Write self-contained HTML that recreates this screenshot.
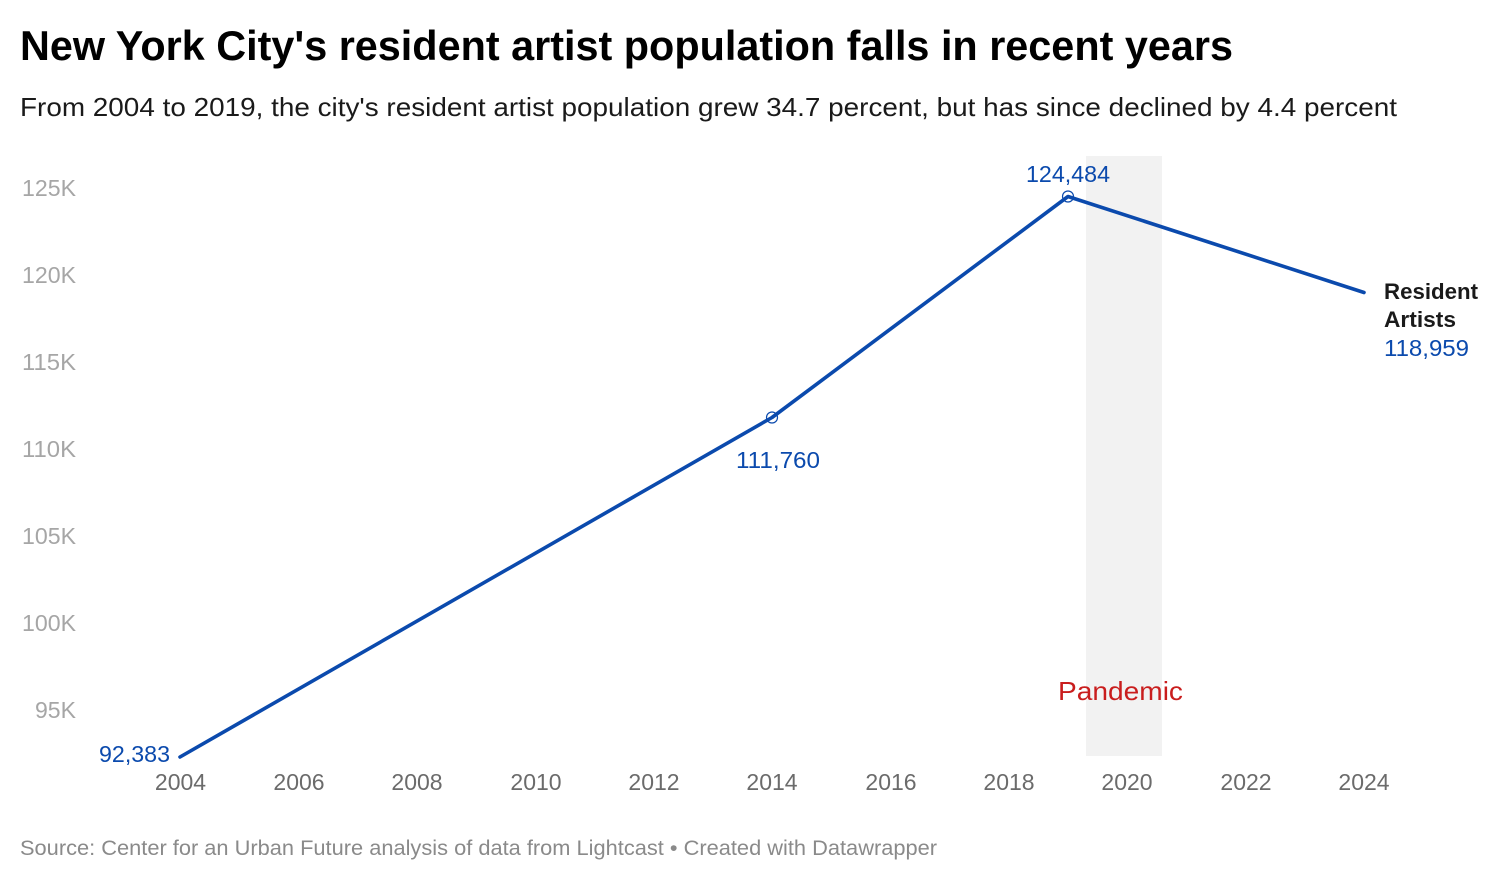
<!DOCTYPE html>
<html><head><meta charset="utf-8"><style>
html,body{margin:0;padding:0;background:#fff;}
svg{display:block;}
text{font-family:"Liberation Sans",Arial,sans-serif;}
</style></head><body>
<svg width="1500" height="882" viewBox="0 0 1500 882" xmlns="http://www.w3.org/2000/svg">
<rect width="1500" height="882" fill="#fff"/>
<text x="20" y="60" font-size="42" font-weight="bold" fill="#000" textLength="1213" lengthAdjust="spacingAndGlyphs">New York City's resident artist population falls in recent years</text>
<text x="20" y="116" font-size="26" fill="#1a1a1a" textLength="1377" lengthAdjust="spacingAndGlyphs">From 2004 to 2019, the city's resident artist population grew 34.7 percent, but has since declined by 4.4 percent</text>

<rect x="1086" y="156" width="76" height="600" fill="#f2f2f2"/>

<g font-size="23" fill="#a6a6a6">
<text x="22" y="196" textLength="54" lengthAdjust="spacingAndGlyphs">125K</text>
<text x="22" y="283" textLength="54" lengthAdjust="spacingAndGlyphs">120K</text>
<text x="22" y="370" textLength="54" lengthAdjust="spacingAndGlyphs">115K</text>
<text x="22" y="457" textLength="54" lengthAdjust="spacingAndGlyphs">110K</text>
<text x="22" y="544" textLength="54" lengthAdjust="spacingAndGlyphs">105K</text>
<text x="22" y="631" textLength="54" lengthAdjust="spacingAndGlyphs">100K</text>
<text x="35" y="718" textLength="41" lengthAdjust="spacingAndGlyphs">95K</text>
</g>

<g font-size="23" fill="#6b6b6b" text-anchor="middle">
<text x="180.5" y="790">2004</text>
<text x="299" y="790">2006</text>
<text x="417" y="790">2008</text>
<text x="536" y="790">2010</text>
<text x="654" y="790">2012</text>
<text x="772" y="790">2014</text>
<text x="891" y="790">2016</text>
<text x="1009" y="790">2018</text>
<text x="1127" y="790">2020</text>
<text x="1246" y="790">2022</text>
<text x="1364" y="790">2024</text>
</g>

<polyline points="180,757 772,417.5 1068,196.5 1364,292.5" fill="none" stroke="#0b4aad" stroke-width="3.6" stroke-linejoin="round" stroke-linecap="round"/>
<circle cx="772" cy="417.5" r="5.5" fill="none" stroke="#0b4aad" stroke-width="1.2"/>
<circle cx="1068" cy="196.5" r="5.5" fill="none" stroke="#0b4aad" stroke-width="1.2"/>

<g font-size="23" fill="#0b4aad">
<text x="99" y="762" textLength="71" lengthAdjust="spacingAndGlyphs">92,383</text>
<text x="736" y="468" textLength="84" lengthAdjust="spacingAndGlyphs">111,760</text>
<text x="1026" y="182" textLength="84" lengthAdjust="spacingAndGlyphs">124,484</text>
<text x="1384" y="356" textLength="85" lengthAdjust="spacingAndGlyphs">118,959</text>
</g>
<g font-size="22" font-weight="bold" fill="#1a1a1a">
<text x="1384" y="299" textLength="94" lengthAdjust="spacingAndGlyphs">Resident</text>
<text x="1384" y="327" textLength="72" lengthAdjust="spacingAndGlyphs">Artists</text>
</g>

<text x="1120.5" y="700" font-size="26" fill="#c91d1d" text-anchor="middle" textLength="125" lengthAdjust="spacingAndGlyphs">Pandemic</text>

<text x="20" y="855" font-size="21" fill="#8a8a8a" textLength="917" lengthAdjust="spacingAndGlyphs">Source: Center for an Urban Future analysis of data from Lightcast • Created with Datawrapper</text>
</svg>
</body></html>
